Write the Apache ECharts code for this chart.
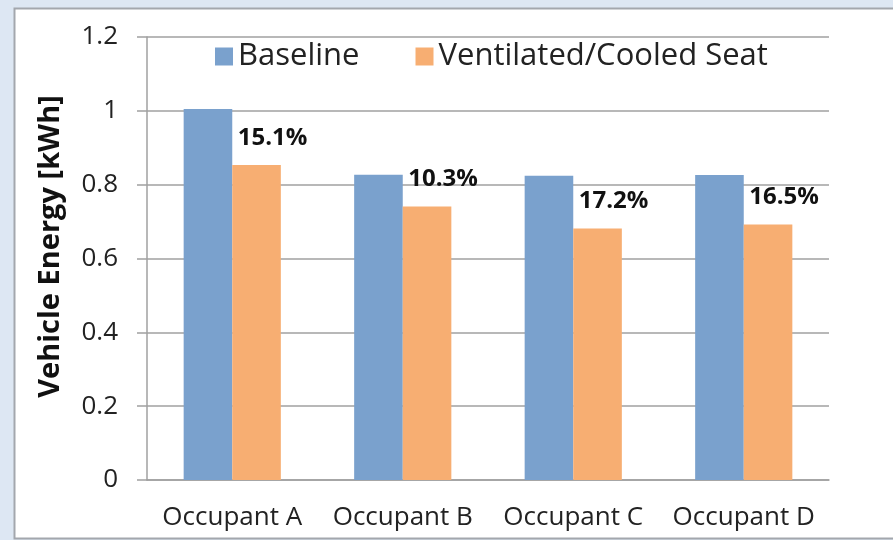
<!DOCTYPE html>
<html>
<head>
<meta charset="utf-8">
<script src="https://cdn.jsdelivr.net/npm/echarts@6/dist/echarts.min.js"></script>
<style>
  html, body { margin: 0; padding: 0; background: #dde7f3; }
  #chart { width: 893px; height: 540px; }
</style>
</head>
<body>
<div id="chart"></div>
<script>
const categories = ["Occupant A", "Occupant B", "Occupant C", "Occupant D"];
const baseline = [1.005, 0.827, 0.824, 0.826];
const cooledSeat = [0.853, 0.741, 0.681, 0.692];
const savingLabels = ["15.1%", "10.3%", "17.2%", "16.5%"];
const yTicks = { min: 0, max: 1.2, interval: 0.2 };

const font = "'Open Sans', sans-serif";
const chart = echarts.init(document.getElementById("chart"));

chart.setOption({
  backgroundColor: "#dde7f3",
  textStyle: { fontFamily: font },
  graphic: [
    {
      type: "rect",
      shape: { x: 14.5, y: 8.5, width: 900, height: 530 },
      style: { fill: "#ffffff", stroke: "#a3a7ad", lineWidth: 2 },
      z: -10,
    },
  ],
  legend: {
    left: 210,
    top: 36,
    itemWidth: 18,
    itemHeight: 18,
    itemGap: 56,
    icon: "rect",
    textStyle: { fontSize: 31, color: "#222", fontFamily: font },
    data: ["Baseline", "Ventilated/Cooled Seat"],
  },
  grid: { left: 147, right: 64, top: 37, bottom: 60 },
  xAxis: {
    type: "category",
    data: categories,
    axisLine: { lineStyle: { color: "#a0a0a0", width: 1.5 } },
    axisTick: { length: 10, lineStyle: { color: "#a0a0a0", width: 1.5 } },
    axisLabel: { interval: 0, fontSize: 26, color: "#222", margin: 25, fontFamily: font },
  },
  yAxis: {
    type: "value",
    min: yTicks.min,
    max: yTicks.max,
    interval: yTicks.interval,
    name: "Vehicle Energy [kWh]",
    nameLocation: "middle",
    nameGap: 82,
    nameTextStyle: {
      fontSize: 29,
      fontWeight: "bold",
      color: "#111",
      fontFamily: font,
      padding: [0, 0, 0, 24],
    },
    axisLine: { show: true, lineStyle: { color: "#a0a0a0", width: 1.5 } },
    axisTick: { show: true, length: 10, lineStyle: { color: "#a0a0a0", width: 1.5 } },
    axisLabel: { fontSize: 26, color: "#222", margin: 29, fontFamily: font },
    splitLine: { lineStyle: { color: "#a0a0a0", width: 1.5 } },
  },
  series: [
    {
      name: "Baseline",
      type: "bar",
      data: baseline,
      barGap: "0%",
      barCategoryGap: "43%",
      itemStyle: { color: "#7aa1cd" },
    },
    {
      name: "Ventilated/Cooled Seat",
      type: "bar",
      data: cooledSeat,
      itemStyle: { color: "#f7ae72" },
      label: {
        show: true,
        position: "top",
        offset: [16, -10],
        fontSize: 24,
        fontWeight: "bold",
        color: "#111",
        fontFamily: font,
        formatter: (p) => savingLabels[p.dataIndex],
      },
    },
  ],
});
</script>
</body>
</html>
